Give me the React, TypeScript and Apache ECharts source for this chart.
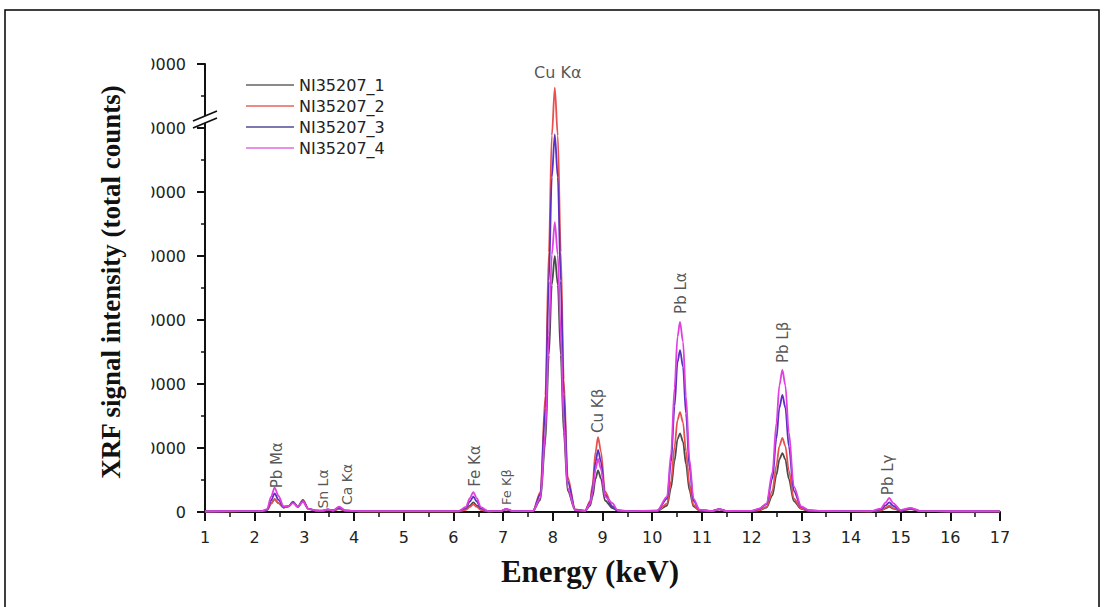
import React, { useEffect, useRef } from "react";
import * as echarts from "echarts";

// Energy grid (keV) shared by all four spectra
const energy = [
  1.0, 1.5, 2.0,
  2.15, 2.25, 2.33, 2.4, 2.48, 2.58, 2.68, 2.77, 2.87, 2.97, 3.08, 3.25,
  3.35, 3.47, 3.58, 3.7, 3.82, 4.1,
  5.0,
  6.1, 6.25, 6.33, 6.4, 6.47, 6.55, 6.7,
  6.95, 7.06, 7.2,
  7.6, 7.75, 7.85, 7.92, 7.98, 8.04, 8.1, 8.16, 8.22, 8.3, 8.45,
  8.65, 8.75, 8.8, 8.86, 8.91, 8.97, 9.05, 9.2, 9.3, 9.5,
  10.1, 10.3, 10.38, 10.45, 10.51, 10.56, 10.62, 10.68, 10.75, 10.83, 10.95,
  11.2, 11.35, 11.5,
  12.0, 12.15, 12.3, 12.42, 12.5, 12.56, 12.62, 12.68, 12.75, 12.85, 13.0, 13.15, 13.4,
  14.4, 14.6, 14.7, 14.77, 14.85, 15.0, 15.2, 15.4, 16.0, 17.0,
];

const ni35207_1 = [
  80, 120, 140,
  140, 300, 1300, 2000, 1400, 700, 900, 1600, 800, 1900, 500, 200,
  180, 350, 220, 500, 200, 120,
  120,
  120, 400, 1000, 1500, 1000, 380, 120,
  130, 420, 130,
  150, 1900, 11000, 24500, 35500, 40000, 35500, 24500, 12500, 3300, 250,
  180, 1000, 2400, 5200, 6500, 5200, 1800, 600, 220, 130,
  160, 1000, 3800, 8000, 11400, 12300, 11000, 7500, 3400, 900, 220,
  150, 400, 150,
  150, 260, 700, 2600, 5800, 8200, 9200, 8200, 5200, 1700, 480, 200, 130,
  120, 240, 580, 850, 520, 200, 450, 140, 110, 100,
];

const ni35207_2 = [
  80, 120, 140,
  140, 300, 1300, 2000, 1400, 700, 900, 1500, 800, 1800, 500, 200,
  180, 350, 220, 500, 200, 120,
  120,
  120, 330, 800, 1200, 800, 320, 120,
  130, 420, 130,
  180, 3100, 18200, 40600, 58800, 66300, 58800, 40600, 20700, 5400, 400,
  200, 1700, 4300, 9400, 11700, 9400, 3200, 900, 250, 140,
  170, 1300, 4800, 10200, 14400, 15600, 14000, 9500, 4300, 1100, 250,
  150, 420, 150,
  160, 310, 800, 3300, 7300, 10300, 11560, 10300, 6500, 2100, 540, 220, 140,
  120, 260, 680, 1000, 620, 220, 500, 140, 110, 100,
];

const ni35207_3 = [
  90, 130, 150,
  150, 380, 1800, 2900, 1900, 800, 900, 1500, 800, 1700, 500, 200,
  200, 400, 250, 700, 230, 130,
  130,
  130, 620, 1650, 2400, 1650, 600, 130,
  140, 450, 140,
  180, 2800, 16200, 36100, 52300, 59000, 52300, 36100, 18400, 4800, 360,
  190, 1450, 3600, 7800, 9700, 7800, 2700, 800, 240, 140,
  200, 2100, 7800, 16500, 23400, 25300, 22700, 15400, 7000, 1800, 320,
  160, 450, 160,
  170, 460, 1200, 5200, 11500, 16300, 18300, 16300, 10300, 3300, 760, 260, 150,
  130, 400, 1050, 1500, 950, 250, 550, 150, 120, 100,
];

const ni35207_4 = [
  90, 130, 150,
  150, 450, 2400, 3800, 2500, 900, 900, 1400, 800, 1600, 500, 200,
  200, 400, 250, 850, 250, 130,
  130,
  130, 780, 2150, 3100, 2150, 760, 130,
  140, 500, 140,
  160, 2200, 12400, 27700, 40200, 45300, 40200, 27700, 14100, 3700, 300,
  180, 1250, 3100, 6700, 8300, 6700, 2400, 1400, 300, 150,
  220, 2400, 9100, 19400, 27400, 29700, 26600, 18100, 8200, 2100, 360,
  160, 450, 160,
  180, 520, 1300, 6200, 13900, 19800, 22200, 19800, 12500, 4000, 860, 280, 160,
  130, 540, 1500, 2200, 1380, 300, 650, 150, 120, 100,
];

const seriesNames = ["NI35207_1", "NI35207_2", "NI35207_3", "NI35207_4"];
const seriesValues = [ni35207_1, ni35207_2, ni35207_3, ni35207_4];

// Peak annotations (label centre in data coordinates)
const peakNames = ["Pb Mα", "Sn Lα", "Ca Kα", "Fe Kα", "Fe Kβ", "Cu Kα", "Cu Kβ", "Pb Lα", "Pb Lβ", "Pb Lγ"];
const peakEnergy = [2.45, 3.38, 3.85, 6.43, 7.06, 8.1, 8.9, 10.58, 12.63, 14.74];
const peakCounts = [7300, 3600, 4300, 7200, 3900, 68600, 15800, 34200, 26500, 5800];

const lineColors = ["#4a4a4a", "#e8504f", "#5a30c0", "#e040e0"];
const legendColors = ["#8a8a8a", "#ec8a86", "#7c78b0", "#e690e6"];
const peakRotate = [90, 90, 90, 90, 90, 0, 90, 90, 90, 90];
const peakFontSize = [15, 14, 14, 15, 13, 16, 15, 15, 15, 15];

export default function App() {
  const ref = useRef<HTMLDivElement>(null);

  useEffect(() => {
    const chart = echarts.init(ref.current!, null, { renderer: "svg" });

    const lineSeries = seriesNames.map((name, i) => ({
      name,
      type: "line",
      data: energy.map((e, j) => [e, seriesValues[i][j]]),
      symbol: "none",
      showSymbol: false,
      smooth: 0.3,
      smoothMonotone: "x",
      lineStyle: { width: 1.8, color: lineColors[i] },
      itemStyle: { color: lineColors[i] },
      emphasis: { disabled: true },
      z: 2 + i,
    }));

    const annotSeries = {
      name: "peaks",
      type: "scatter",
      symbolSize: 0,
      silent: true,
      z: 10,
      data: peakNames.map((n, i) => ({
        name: n,
        value: [peakEnergy[i], peakCounts[i]],
        label: { rotate: peakRotate[i], fontSize: peakFontSize[i] },
      })),
      label: {
        show: true,
        position: "inside",
        formatter: (p: any) => p.name,
        fontFamily: "DejaVu Sans",
        color: "#2a2a2a",
        align: "center",
        verticalAlign: "middle",
      },
    };

    const axisFont = { fontFamily: "DejaVu Sans", fontSize: 16, color: "#222" };

    chart.setOption({
      animation: false,
      backgroundColor: "#ffffff",
      grid: { left: 205, right: 113, top: 64, bottom: 95 },
      legend: {
        data: seriesNames.map((n, i) => ({
          name: n,
          itemStyle: { opacity: 0 },
          lineStyle: { color: legendColors[i], width: 2 },
        })),
        orient: "vertical",
        left: 240,
        top: 72,
        itemWidth: 48,
        itemHeight: 14,
        itemGap: 5,
        selectedMode: false,
        textStyle: { fontFamily: "DejaVu Sans", fontSize: 16, color: "#222", lineHeight: 16 },
      },
      xAxis: {
        type: "value",
        min: 1,
        max: 17,
        interval: 1,
        name: "Energy (keV)",
        nameLocation: "middle",
        nameGap: 44,
        nameTextStyle: {
          fontFamily: "Liberation Serif",
          fontWeight: "bold",
          fontSize: 31,
          color: "#111",
          padding: [0, 25, 0, 0],
        },
        axisLine: { show: true, onZero: false, lineStyle: { color: "#111", width: 2 } },
        axisTick: { show: true, inside: false, length: 9, lineStyle: { color: "#111", width: 2 } },
        minorTick: { show: true, splitNumber: 2, length: 5, lineStyle: { color: "#111", width: 1.5 } },
        axisLabel: { ...axisFont, margin: 17 },
        splitLine: { show: false },
        minorSplitLine: { show: false },
      },
      yAxis: {
        type: "value",
        min: 0,
        max: 70000,
        interval: 10000,
        name: "XRF signal intensity (total counts)",
        nameLocation: "middle",
        nameGap: 68,
        nameTextStyle: {
          fontFamily: "Liberation Serif",
          fontWeight: "bold",
          fontSize: 27,
          color: "#111",
          padding: [0, 0, 0, 12],
        },
        axisLine: { show: true, lineStyle: { color: "#111", width: 2 } },
        axisTick: { show: true, inside: false, length: 8, lineStyle: { color: "#111", width: 2 } },
        minorTick: { show: true, splitNumber: 2, length: 4, lineStyle: { color: "#111", width: 1.5 } },
        axisLabel: { ...axisFont, margin: 19, formatter: (v: number) => String(v) },
        splitLine: { show: false },
        minorSplitLine: { show: false },
      },
      series: [...lineSeries, annotSeries],
      graphic: [
        // the source picture crops the leading digit of the y tick labels
        { type: "rect", z: 100, silent: true, shape: { x: 133, y: 40, width: 18.5, height: 430 }, style: { fill: "#ffffff" } },
        // axis break
        { type: "polygon", z: 100, silent: true, shape: { points: [[193, 121], [217, 111], [217, 118], [193, 128]] }, style: { fill: "#ffffff" } },
        { type: "line", z: 101, silent: true, shape: { x1: 193, y1: 121, x2: 217, y2: 111 }, style: { stroke: "#111", lineWidth: 1.8 } },
        { type: "line", z: 101, silent: true, shape: { x1: 193, y1: 128, x2: 217, y2: 118 }, style: { stroke: "#111", lineWidth: 1.8 } },
        // outer frame
        { type: "rect", z: 100, silent: true, shape: { x: 5, y: 10, width: 1094, height: 620 }, style: { fill: "none", stroke: "#000", lineWidth: 1.5 } },
      ],
    });

    return () => chart.dispose();
  }, []);

  return <div ref={ref} style={{ position: "absolute", left: 0, top: 0, width: 1113, height: 607 }} />;
}
